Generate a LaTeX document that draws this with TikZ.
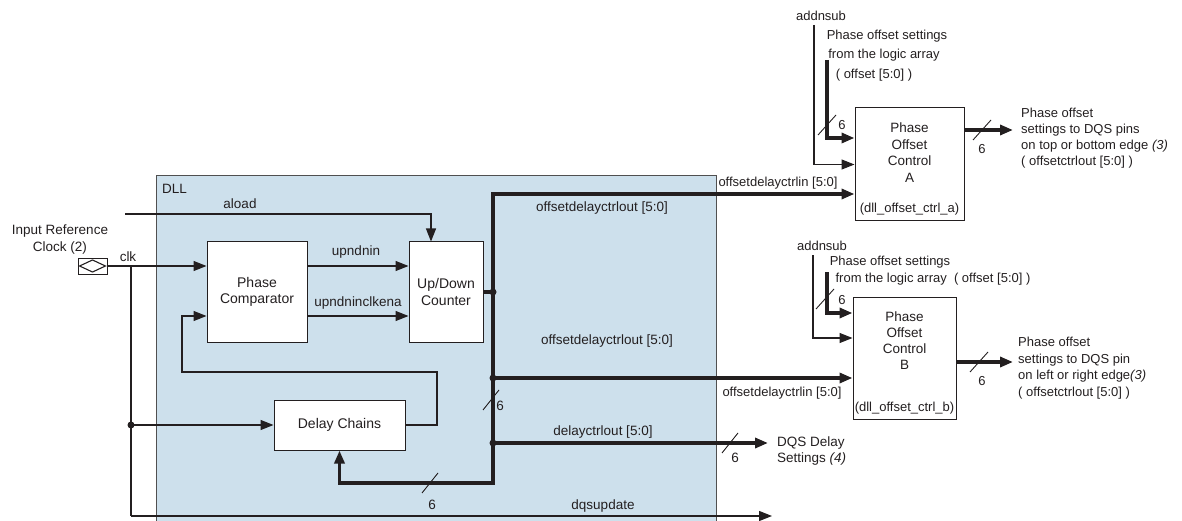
\documentclass[tikz,border=0pt]{standalone}
\usepackage{fontspec}
\setmainfont{Liberation Sans}
\usetikzlibrary{arrows.meta}
\definecolor{dllblue}{RGB}{205,224,236}
\definecolor{ink}{RGB}{35,31,32}
\definecolor{frame}{RGB}{80,80,80}
\begin{document}
\begin{tikzpicture}[x=1pt,y=-1pt,
  thinw/.style={line width=1.1pt, draw=ink},
  bus/.style={line width=3.8pt, draw=ink},
  arr/.style={-{Triangle[length=13pt,width=10pt]}},
  lbl/.style={font=\fontsize{13.5}{16.5}\selectfont, inner sep=0pt, text=ink},
  slbl/.style={font=\fontsize{13}{16}\selectfont, inner sep=0pt, text=ink},
  blk/.style={draw=ink, line width=1pt, fill=white, inner sep=0pt, align=center,
              font=\fontsize{14}{16.5}\selectfont, text=ink},
  dot/.style={circle, fill=ink, inner sep=0pt, minimum size=7pt},
  slashline/.style={line width=0.9pt, draw=ink}]
\useasboundingbox (0,0) rectangle (1182,521);
\clip (0,0) rectangle (1182,521);
% DLL region
\fill[dllblue] (156,176) rectangle (716,530);
\draw[frame, line width=1pt] (156,530) -- (156,176) -- (716,176) -- (716,530);
\node[lbl, anchor=west] (dll) at (162,189) {DLL};

% blocks
\node[blk, minimum width=100pt, minimum height=100pt] (pc) at (257,292) {Phase\\Comparator};
\node[blk, minimum width=74pt, minimum height=100pt] (udc) at (446,292) {Up/Down\\Counter};
\node[blk, minimum width=131pt, minimum height=50pt] (dc) at (339.5,425) {Delay Chains};
\node[blk, minimum width=109pt, minimum height=113pt] (poa) at (909.5,164.5) {};
\node[lbl, align=center] (poat) at (909.5,152.5) {Phase\\Offset\\Control\\A};
\node[slbl] (poas) at (909.5,209) {(dll\_offset\_ctrl\_a)};
\node[blk, minimum width=103pt, minimum height=122pt] (pob) at (904.5,358) {};
\node[lbl, align=center, font=\fontsize{13.5}{16}\selectfont] (pobt) at (904.5,341) {Phase\\Offset\\Control\\B};
\node[slbl] (pobs) at (904.5,408) {(dll\_offset\_ctrl\_b)};

% input pin
\node[draw=ink, line width=0.9pt, minimum width=29pt, minimum height=16pt, inner sep=0pt] (pin) at (92.5,266) {};
\draw[thinw] ([xshift=2pt]pin.west) -- ([yshift=6pt]pin.center) -- ([xshift=-2pt]pin.east) -- ([yshift=-6pt]pin.center) -- cycle;
\node[lbl, align=center] (inref) at (60,239.5) {Input Reference\\Clock (2)};
\node[lbl] (clk) at (128,257) {clk};

% clock distribution
\coordinate (cj) at (131,266);
\node[dot] (cdot) at (131,425) {};
\coordinate (dqs0) at (131,516);
\coordinate (dqs1) at (772,516);
\draw[thinw, arr] (pin.east) -- (pin.east -| pc.west);
\draw[thinw] (cj) -- (dqs0);
\draw[thinw, arr] (dqs0) -- (dqs1);
\draw[thinw, arr] (cdot.center) -- (dc.west);
\node[lbl] (dqsu) at (603,506) {dqsupdate};

% aload
\coordinate (al0) at (125,214);
\draw[thinw, arr] (al0) -| ([xshift=-15pt]udc.north);
\node[lbl] (aload) at (240,204) {aload};

% comparator to counter
\draw[thinw, arr] ([yshift=26pt]pc.east) -- ([yshift=26pt]udc.west);
\draw[thinw, arr] ([yshift=-24pt]pc.east) -- ([yshift=-24pt]udc.west);
\node[lbl] (upd) at (356,252) {upndnin};
\node[lbl] (updc) at (358,303) {upndninclkena};

% feedback
\coordinate (fb1) at (437,425);
\coordinate (fb2) at (437,372);
\coordinate (fb3) at (182,372);
\coordinate (fb4) at (182,316);
\draw[thinw, arr] (dc.east) -- (fb1) -- (fb2) -- (fb3) -- (fb4) -- ([yshift=-24pt]pc.west);

% bus
\coordinate (b0) at (493,194);
\coordinate (bbot) at (493,483);
\node[dot] (bc) at (493,292) {};
\node[dot] (bb) at (493,378) {};
\node[dot] (bd) at (493,443) {};
\coordinate (dqsD) at (768,443);
\draw[bus] (udc.east) -- (bc.center);
\draw[bus, {Triangle[length=13pt,width=10pt]}-{Triangle[length=13pt,width=10pt]}] (dc.south) |- (bbot) -- (b0) -- (b0 -| poa.west);
\draw[bus, arr] (bb.center) -- (bb.center -| pob.west);
\draw[bus, arr] (bd.center) -- (dqsD);
\node[lbl] (odo1) at (602,208) {offsetdelayctrlout [5:0]};
\node[lbl] (odo2) at (607,341) {offsetdelayctrlout [5:0]};
\node[slbl] (odi1) at (778,183) {offsetdelayctrlin [5:0]};
\node[slbl] (odi2) at (782,393) {offsetdelayctrlin [5:0]};
\node[lbl] (dco) at (603,432) {delayctrlout [5:0]};
\node[lbl, align=left, anchor=west] (dqsd) at (777,451) {DQS Delay\\Settings \textit{(4)}};

% slashes and widths
\draw[slashline] (491,400) ++(-8,10) -- ++(16,-20);
\node[lbl] (w1) at (500,406) {6};
\draw[slashline] (430,483) ++(-8,10) -- ++(16,-20);
\node[lbl] (w2) at (432,505) {6};
\draw[slashline] (730,443) ++(-8,10) -- ++(16,-20);
\node[lbl] (w3) at (735,458) {6};

% Phase offset control A inputs/outputs
\coordinate (addA) at (814,25);
\draw[thinw, arr] (addA) |- (poa.west);
\node[slbl] (addAl) at (821,16) {addnsub};
\coordinate (offA) at (827,60);
\draw[bus, arr] (offA) |- ([yshift=26.5pt]poa.west);
\node[slbl] (offAl1) at (887,36) {Phase offset settings};
\node[slbl] (offAl2) at (884,55) {from the logic array};
\node[slbl] (offAl3) at (874,75) {( offset [5:0] )};
\draw[slashline] (827,125) ++(-9,10) -- ++(18,-20);
\node[slbl] (w4) at (842,125) {6};
\coordinate (outA) at (1013,130);
\draw[bus, arr] ([yshift=34.5pt]poa.east) -- (outA);
\draw[slashline] (982,130) ++(-9,10) -- ++(18,-20);
\node[slbl] (w5) at (982,149) {6};
\node[slbl, align=left, anchor=north west, font=\fontsize{13}{16}\selectfont] (outAl) at (1021,108) {Phase offset\\settings to DQS pins\\on top or bottom edge \textit{(3)}\\( offsetctrlout [5:0] )};

% Phase offset control B inputs/outputs
\coordinate (addB) at (813,255);
\draw[thinw, arr] (addB) |- ([yshift=20pt]pob.west);
\node[slbl] (addBl) at (822,246) {addnsub};
\coordinate (offB) at (827,272);
\draw[bus, arr] (offB) |- ([yshift=45pt]pob.west);
\node[slbl] (offBl1) at (890,262) {Phase offset settings};
\node[slbl] (offBl2) at (933,279) {from the logic array\ \ ( offset [5:0] )};
\draw[slashline] (825,299) ++(-9,10) -- ++(18,-20);
\node[slbl] (w6) at (842,300) {6};
\coordinate (outB) at (1013,362);
\draw[bus, arr] ([yshift=-4pt]pob.east) -- (outB);
\draw[slashline] (979,362) ++(-9,10) -- ++(18,-20);
\node[slbl] (w7) at (982,381) {6};
\node[slbl, align=left, anchor=north west, font=\fontsize{13}{16.5}\selectfont] (outBl) at (1018,337) {Phase offset\\settings to DQS pin\\on left or right edge\textit{(3)}\\( offsetctrlout [5:0] )};
\end{tikzpicture}
\end{document}
